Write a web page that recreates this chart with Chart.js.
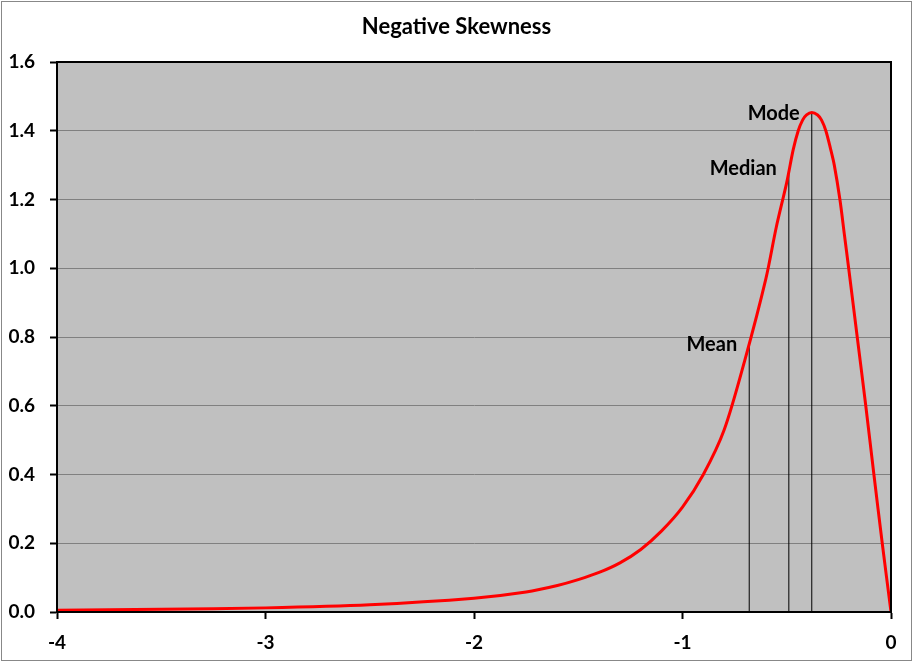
<!DOCTYPE html>
<html>
<head>
<meta charset="utf-8">
<script src="https://cdn.jsdelivr.net/npm/chart.js@4.4.1/dist/chart.umd.min.js"></script>
<style>
  html, body { margin: 0; padding: 0; background: #fff; }
  canvas { display: block; }
</style>
</head>
<body>
<canvas id="c" width="913" height="663"></canvas>
<script>
// curve
const curveX = [-4.0, -3.5, -3.0, -2.5, -2.0, -1.75, -1.6, -1.5, -1.4, -1.3, -1.2, -1.1, -1.0, -0.9, -0.8, -0.7, -0.6, -0.55, -0.5, -0.469, -0.445, -0.424, -0.405, -0.38, -0.352, -0.333, -0.3125, -0.289, -0.272, -0.245, -0.224, -0.203, -0.162, -0.121, -0.082, -0.042, 0];
const curveY = [0.005, 0.008, 0.012, 0.021, 0.040, 0.058, 0.077, 0.094, 0.115, 0.143, 0.182, 0.236, 0.305, 0.40, 0.53, 0.735, 0.97, 1.12, 1.25, 1.345, 1.40, 1.431, 1.446, 1.453, 1.446, 1.431, 1.40, 1.345, 1.30, 1.20, 1.10, 1.0, 0.8, 0.6, 0.4, 0.2, 0.0];

const statNames = ['Mean', 'Median', 'Mode'];
const statX = [-0.68, -0.49, -0.38];
const statY = [0.78, 1.276, 1.453];

const titleText = 'Negative Skewness';
const FONT = 'Lato, "Open Sans", sans-serif';

const statSets = statX.map((x, i) => ({
  data: [{ x: x, y: 0 }, { x: x, y: statY[i] }],
  showLine: true,
  borderColor: '#000',
  borderWidth: 1,
  pointRadius: 0,
  tension: 0
}));

const plotFrame = {
  id: 'plotFrame',
  beforeDraw(chart) {
    const { ctx, chartArea: a } = chart;
    ctx.save();
    ctx.fillStyle = '#fff';
    ctx.fillRect(0, 0, chart.width, chart.height);
    ctx.strokeStyle = '#888';
    ctx.lineWidth = 1;
    ctx.strokeRect(1.5, 1.5, chart.width - 3, chart.height - 4);
    ctx.fillStyle = '#c0c0c0';
    ctx.fillRect(a.left, a.top, a.right - a.left, a.bottom - a.top);
    ctx.restore();
  },
  afterDraw(chart) {
    const { ctx, chartArea: a, scales } = chart;
    ctx.save();
    ctx.strokeStyle = '#000';
    ctx.lineWidth = 2;
    ctx.strokeRect(a.left, a.top, a.right - a.left, a.bottom - a.top);
    ctx.fillStyle = '#000';
    // title, centred on the whole picture
    ctx.font = 'bold 22px ' + FONT;
    ctx.textAlign = 'center';
    ctx.textBaseline = 'middle';
    ctx.fillText(titleText, chart.width / 2, 27);
    // stat labels
    ctx.font = 'bold 20px ' + FONT;
    ctx.textAlign = 'right';
    statNames.forEach((name, i) => {
      const px = scales.x.getPixelForValue(statX[i]);
      const py = scales.y.getPixelForValue(statY[i]);
      ctx.fillText(name, px - 12, py + (i === 1 ? -5 : 1));
    });
    ctx.restore();
  }
};

new Chart(document.getElementById('c'), {
  type: 'scatter',
  data: {
    datasets: [{
      data: curveX.map((x, i) => ({ x: x, y: curveY[i] })),
      showLine: true,
      borderColor: '#ff0000',
      borderWidth: 3,
      pointRadius: 0,
      tension: 0.3
    }].concat(statSets)
  },
  options: {
    responsive: false,
    animation: false,
    devicePixelRatio: 1,
    layout: { padding: { left: 0, right: 22, top: 62, bottom: 0 } },
    plugins: {
      legend: { display: false },
      tooltip: { enabled: false },
      title: { display: false }
    },
    scales: {
      x: {
        type: 'linear',
        min: -4,
        max: 0,
        afterFit: s => { s.height = 51; },
        border: { color: '#000', width: 2 },
        grid: { drawOnChartArea: false, tickLength: 7, tickColor: '#000', tickWidth: 2 },
        ticks: {
          stepSize: 1,
          color: '#000',
          padding: 12,
          font: { family: FONT, size: 19, weight: 'bold' },
          callback: v => String(v)
        }
      },
      y: {
        min: 0,
        max: 1.6,
        afterFit: s => { s.width = 57; },
        border: { color: '#000', width: 2 },
        grid: { color: '#808080', lineWidth: 1, tickLength: 7, tickColor: '#000', tickWidth: 2 },
        ticks: {
          stepSize: 0.2,
          color: '#000',
          padding: 15,
          font: { family: FONT, size: 19, weight: 'bold' },
          callback: v => v.toFixed(1)
        }
      }
    }
  },
  plugins: [plotFrame]
});
</script>
</body>
</html>
